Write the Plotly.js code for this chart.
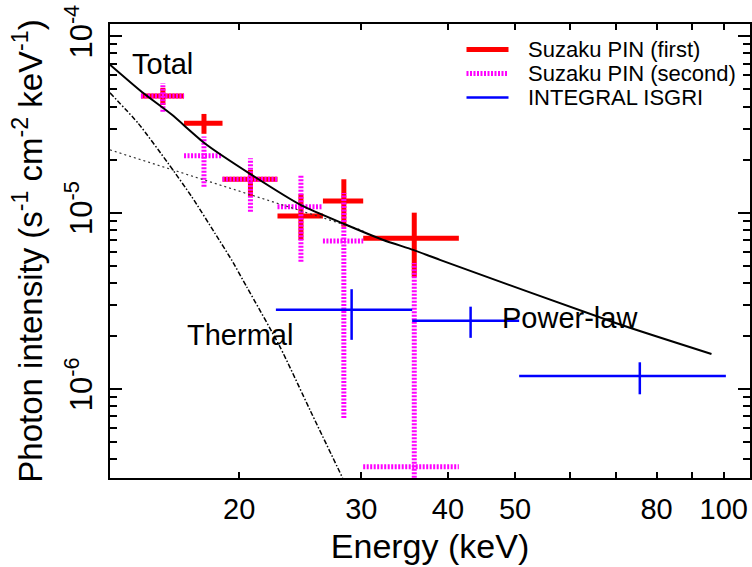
<!DOCTYPE html>
<html>
<head>
<meta charset="utf-8">
<script src="https://cdn.plot.ly/plotly-3.0.1.min.js"></script>
<style>html,body{margin:0;padding:0;background:#fff}#chart{width:752px;height:567px}</style>
</head>
<body>
<div id="chart"></div>
<script>
// Suzaku PIN, first observation: bin centre and edges (keV), intensity with lower/upper bounds
const pin1Energy = [15.52, 17.79, 20.76, 24.55, 28.31, 35.77];
const pin1EnergyLow = [14.43, 16.65, 18.92, 22.71, 26.41, 30.19];
const pin1EnergyHigh = [16.65, 18.92, 22.71, 26.41, 30.19, 41.48];
const pin1Flux = [4.59e-5, 3.21e-5, 1.547e-5, 9.58e-6, 1.165e-5, 7.16e-6];
const pin1FluxLow = [4.08e-5, 2.80e-5, 1.232e-5, 7.0e-6, 8.33e-6, 4.32e-6];
const pin1FluxHigh = [5.10e-5, 3.63e-5, 1.747e-5, 1.272e-5, 1.547e-5, 1.0e-5];

// Suzaku PIN, second observation (same energy bins)
const pin2Flux = [4.59e-5, 2.105e-5, 1.547e-5, 1.081e-5, 6.91e-6, 3.62e-7];
const pin2FluxLow = [3.74e-5, 1.404e-5, 1.013e-5, 5.27e-6, 6.85e-7, 3.0e-7];
const pin2FluxHigh = [5.42e-5, 2.70e-5, 2.035e-5, 1.636e-5, 1.293e-5, 5.18e-6];

// INTEGRAL ISGRI
const isgriEnergy = [29.05, 43.13, 75.66];
const isgriEnergyLow = [22.59, 35.52, 50.68];
const isgriEnergyHigh = [35.52, 50.68, 100.7];
const isgriFlux = [2.81e-6, 2.44e-6, 1.185e-6];
const isgriFluxLow = [1.90e-6, 1.95e-6, 9.33e-7];
const isgriFluxHigh = [3.68e-6, 2.93e-6, 1.417e-6];

// Model curves
const totalEnergy = [13.02, 14.46, 15.98, 17.85, 20.84, 24.6, 28.41, 32.27, 35.64, 38.95, 70.0, 96.0];
const totalFlux = [6.9e-5, 4.85e-5, 3.6e-5, 2.47e-5, 1.64e-5, 1.1e-5, 8.6e-6, 7.0e-6, 6.15e-6, 5.4e-6, 2.36e-6, 1.58e-6];
const thermalEnergy = [13.02, 14.30, 15.80, 17.08, 18.45, 19.5, 20.5, 22.89, 25.3, 28.19];
const thermalFlux = [4.78e-5, 3.21e-5, 1.9e-5, 1.232e-5, 7.64e-6, 5.39e-6, 3.8e-6, 1.74e-6, 7.6e-7, 3.13e-7];
const powerLawEnergy = [13.02, 30.2];
const powerLawFlux = [2.27e-5, 7.9e-6];

// Axis ticks
const xTickVals = [20, 30, 40, 50, 80, 100];
const xTickText = ['20', '30', '40', '50', '80', '100'];
const xMinorTickVals = [60, 70, 90];
const xLongTickVals = [100];
const yTickVals = [1e-6, 1e-5, 1e-4];
const yTickText = ['10<sup>-6</sup>', '10<sup>-5</sup>', '10<sup>-4</sup>'];
const yMinorTickVals = [4e-7, 5e-7, 6e-7, 7e-7, 8e-7, 9e-7,
  2e-6, 3e-6, 4e-6, 5e-6, 6e-6, 7e-6, 8e-6, 9e-6,
  2e-5, 3e-5, 4e-5, 5e-5, 6e-5, 7e-5, 8e-5, 9e-5];

// Legend entries
const legendNames = ['Suzaku PIN (first)', 'Suzaku PIN (second)', 'INTEGRAL ISGRI'];
const legendColors = ['#ff0000', '#ff00ff', '#0000ff'];
const legendWidths = [5, 5, 2.5];
const legendDashes = ['solid', '2px,1.5px', 'solid'];

// Curve labels
const curveLabels = ['Total', 'Thermal', 'Power-law'];

// Turn centre + bounds into one path of horizontal and vertical bars per point
function crossPath(xc, xlo, xhi, yc, ylo, yhi) {
  const xs = [], ys = [];
  for (let i = 0; i < xc.length; i++) {
    xs.push(xlo[i], xhi[i], null, xc[i], xc[i], null);
    ys.push(yc[i], yc[i], null, ylo[i], yhi[i], null);
  }
  return {x: xs, y: ys};
}

const c1 = crossPath(pin1Energy, pin1EnergyLow, pin1EnergyHigh, pin1Flux, pin1FluxLow, pin1FluxHigh);
const c2 = crossPath(pin1Energy, pin1EnergyLow, pin1EnergyHigh, pin2Flux, pin2FluxLow, pin2FluxHigh);
const c3 = crossPath(isgriEnergy, isgriEnergyLow, isgriEnergyHigh, isgriFlux, isgriFluxLow, isgriFluxHigh);

const traces = [
  {x: c1.x, y: c1.y, mode: 'lines', name: legendNames[0], connectgaps: false,
   line: {color: legendColors[0], width: legendWidths[0]}},
  {x: c2.x, y: c2.y, mode: 'lines', name: legendNames[1], connectgaps: false,
   line: {color: legendColors[1], width: legendWidths[1], dash: legendDashes[1]}},
  {x: c3.x, y: c3.y, mode: 'lines', name: legendNames[2], connectgaps: false,
   line: {color: legendColors[2], width: legendWidths[2]}},
  {x: powerLawEnergy, y: powerLawFlux, mode: 'lines', name: 'Power-law',
   line: {color: '#333', width: 1.2, dash: '2px,3px'}},
  {x: thermalEnergy, y: thermalFlux, mode: 'lines', name: 'Thermal',
   line: {color: 'black', width: 1.5, dash: '5px,2px,1.5px,2px', shape: 'spline', smoothing: 0.6}},
  {x: totalEnergy, y: totalFlux, mode: 'lines', name: 'Total',
   line: {color: 'black', width: 2, shape: 'spline', smoothing: 0.6}}
];

// plot area in pixels, for placing the hand-drawn legend and labels
const L = 110, R = 750, T = 24, B = 478;
const px = v => (v - L) / (R - L);
const py = v => (B - v) / (B - T);

const shapes = [];
const annotations = [];
const rowY = [49.5, 73.5, 97.5];
legendNames.forEach((name, i) => {
  shapes.push({type: 'line', xref: 'paper', yref: 'paper',
    x0: px(466.5), x1: px(508.5), y0: py(rowY[i]), y1: py(rowY[i]),
    line: {color: legendColors[i], width: legendWidths[i], dash: legendDashes[i]}});
  annotations.push({xref: 'paper', yref: 'paper', x: px(526), y: py(rowY[i]),
    xanchor: 'left', yanchor: 'middle', showarrow: false, text: name,
    font: {size: 22, color: 'black'}});
});
const labelPos = [[162.5, 64], [240, 335], [570, 318]];
curveLabels.forEach((t, i) => {
  annotations.push({xref: 'paper', yref: 'paper', x: px(labelPos[i][0]), y: py(labelPos[i][1]),
    xanchor: 'center', yanchor: 'middle', showarrow: false, text: t,
    font: {size: 29, color: 'black'}});
});

const xRange = [Math.log10(13.02), Math.log10(109.1)];
const yRange = [Math.log10(3.127e-7), Math.log10(1.175e-4)];

const layout = {
  width: 752, height: 567,
  margin: {l: L, r: 752 - R, t: T, b: 567 - B, pad: 0},
  paper_bgcolor: 'white', plot_bgcolor: 'white',
  font: {family: 'Liberation Sans, Arial, sans-serif', color: 'black'},
  showlegend: false,
  xaxis: {
    type: 'log', range: xRange, automargin: false,
    tickmode: 'array', tickvals: xTickVals, ticktext: xTickText,
    ticks: 'inside', ticklen: 6, tickwidth: 2, tickcolor: 'black',
    minor: {tickmode: 'array', tickvals: xMinorTickVals, ticks: 'inside', ticklen: 6,
            tickwidth: 2, tickcolor: 'black', showgrid: false},
    showline: true, linewidth: 2, linecolor: 'black', mirror: 'ticks',
    showgrid: false, zeroline: false,
    tickfont: {size: 29}, ticklabelstandoff: 4,
    title: {text: 'Energy (keV)', font: {size: 34}, standoff: 10}
  },
  xaxis2: {
    type: 'log', range: xRange, overlaying: 'x', anchor: 'y',
    tickmode: 'array', tickvals: xLongTickVals,
    ticks: 'inside', ticklen: 12, tickwidth: 2, tickcolor: 'black',
    showticklabels: false, showline: false, mirror: 'ticks',
    showgrid: false, zeroline: false
  },
  yaxis: {
    type: 'log', range: yRange, automargin: false,
    tickmode: 'array', tickvals: yTickVals, ticktext: yTickText,
    ticks: 'inside', ticklen: 12, tickwidth: 2, tickcolor: 'black',
    minor: {tickmode: 'array', tickvals: yMinorTickVals, ticks: 'inside', ticklen: 7,
            tickwidth: 2, tickcolor: 'black', showgrid: false},
    showline: true, linewidth: 2, linecolor: 'black', mirror: 'ticks',
    showgrid: false, zeroline: false,
    tickangle: -90, tickfont: {size: 31}, ticklabelstandoff: 4,
    title: {text: 'Photon intensity (s<sup>-1</sup> cm<sup>-2</sup> keV<sup>-1</sup>)',
            font: {size: 33}, standoff: 6}
  },
  shapes: shapes,
  annotations: annotations
};

Plotly.newPlot('chart', traces, layout, {staticPlot: true, displayModeBar: false});
</script>
</body>
</html>
